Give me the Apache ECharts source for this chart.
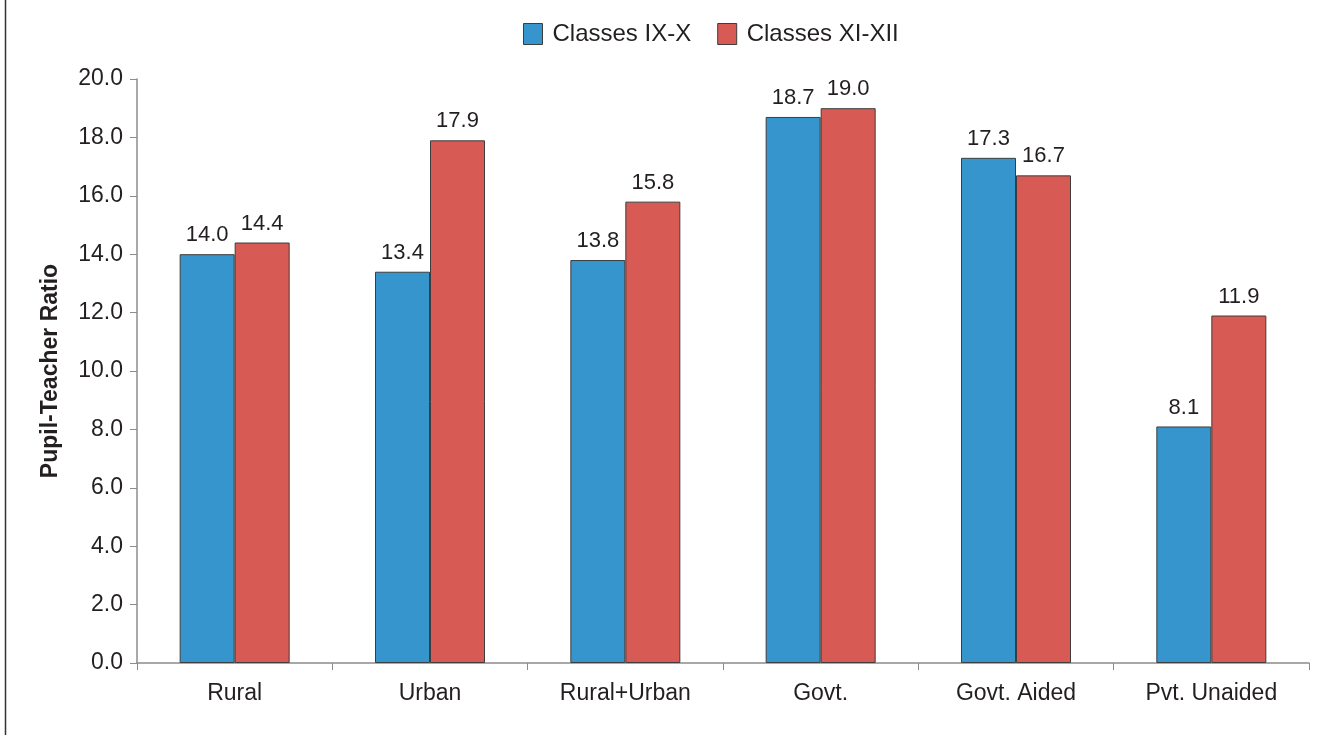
<!DOCTYPE html>
<html>
<head>
<meta charset="utf-8">
<script src="https://cdn.jsdelivr.net/npm/echarts@6/dist/echarts.min.js"></script>
<style>
  html, body { margin: 0; padding: 0; background: #fff; }
  #chart { width: 1332px; height: 735px; }
</style>
</head>
<body>
<div id="chart"></div>
<script>
const categories = ['Rural', 'Urban', 'Rural+Urban', 'Govt.', 'Govt. Aided', 'Pvt. Unaided']
const classes9to10 = [14.0, 13.4, 13.8, 18.7, 17.3, 8.1]
const classes11to12 = [14.4, 17.9, 15.8, 19.0, 16.7, 11.9]
const seriesNames = ['Classes IX-X', 'Classes XI-XII']

const font = '"Liberation Sans", Arial, Helvetica, sans-serif'
const textColor = '#231f20'
const axisColor = '#8c8c8c'

let chart = echarts.init(document.getElementById('chart'))

function barSeries(name, data, color) {
  return {
    name: name,
    type: 'bar',
    data: data,
    barWidth: 55,
    barGap: '0%',
    itemStyle: { color: color, borderColor: '#3d3d3d', borderWidth: 1 },
    label: {
      show: true,
      position: 'top',
      distance: 8,
      color: textColor,
      fontFamily: font,
      fontSize: 22,
      formatter: p => p.value.toFixed(1)
    }
  }
}

let option = {
  animation: false,
  textStyle: { fontFamily: font },
  legend: {
    top: 22,
    left: 523,
    padding: 0,
    icon: 'rect',
    itemWidth: 19,
    itemHeight: 21,
    itemGap: 26,
    textStyle: { fontSize: 24, color: textColor, fontFamily: font, padding: [0, 0, 0, 5] },
    data: seriesNames.map(n => ({ name: n, itemStyle: { borderColor: '#3d3d3d', borderWidth: 1 } }))
  },
  grid: { left: 137, right: 23, top: 79, bottom: 72 },
  xAxis: {
    type: 'category',
    data: categories,
    axisLine: { lineStyle: { color: axisColor, width: 1.5 } },
    axisTick: { show: true, length: 7, alignWithLabel: false, lineStyle: { color: axisColor } },
    axisLabel: { color: textColor, fontSize: 23, margin: 19, fontFamily: font }
  },
  yAxis: {
    type: 'value',
    min: 0,
    max: 20,
    interval: 2,
    name: 'Pupil-Teacher Ratio',
    nameLocation: 'middle',
    nameGap: 75,
    nameTextStyle: { fontSize: 23, fontWeight: 'bold', color: textColor, fontFamily: font },
    axisLine: { show: true, lineStyle: { color: axisColor, width: 1.5 } },
    axisTick: { show: true, length: 7, lineStyle: { color: axisColor } },
    splitLine: { show: false },
    axisLabel: {
      color: textColor,
      fontSize: 23,
      margin: 14,
      fontFamily: font,
      formatter: v => v.toFixed(1)
    }
  },
  series: [
    barSeries(seriesNames[0], classes9to10, '#3595cc'),
    barSeries(seriesNames[1], classes11to12, '#d85a55')
  ],
  graphic: [{
    type: 'line',
    shape: { x1: 5.5, y1: 0, x2: 5.5, y2: 735 },
    style: { stroke: '#333', lineWidth: 1.5 }
  }]
}

chart.setOption(option)
</script>
</body>
</html>
